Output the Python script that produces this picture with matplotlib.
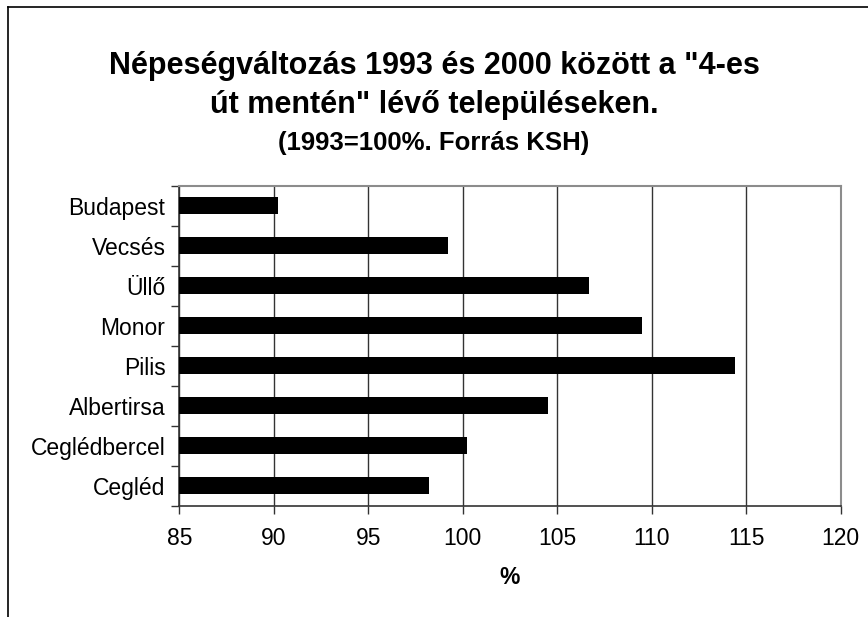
import numpy as np
import matplotlib.pyplot as plt
from matplotlib.lines import Line2D

# Data (1993 = 100%)
towns = ["Budapest", "Vecsés", "Üllő", "Monor", "Pilis", "Albertirsa",
         "Ceglédbercel", "Cegléd"]
values = [90.2, 99.2, 106.7, 109.5, 114.4, 104.5, 100.2, 98.2]
xticks = [85, 90, 95, 100, 105, 110, 115, 120]

plt.rcParams['font.family'] = ['Liberation Sans', 'DejaVu Sans']

W, H = 868, 617
fig = plt.figure(figsize=(W / 100, H / 100), dpi=100)
ax = fig.add_axes([179.3 / W, 1 - 505.7 / H, (840.7 - 179.3) / W, (505.7 - 185.7) / H])

y = np.arange(len(towns))
ax.barh(y, np.array(values) - 85, left=85, height=0.42, color="black", zorder=3)

ax.set_xlim(85, 120)
ax.set_ylim(len(towns) - 0.5, -0.5)
ax.set_xticks(xticks)
ax.set_xticklabels([str(v) for v in xticks], fontsize=16.5)
ax.tick_params(axis="x", direction="out", length=6, width=1, color="#333333", pad=9)

# category labels at centres, tick marks at boundaries
ax.set_yticks(np.arange(len(towns) + 1) - 0.5)
ax.set_yticklabels([])
ax.set_yticks(y, minor=True)
ax.set_yticklabels(towns, minor=True, fontsize=16.5)
ax.tick_params(axis="y", which="major", direction="out", length=6, width=1, color="#333333")
ax.tick_params(axis="y", which="minor", length=0, pad=10)

ax.grid(axis="x", color="#333333", lw=1, zorder=1)
for s in ["left", "bottom"]:
    ax.spines[s].set_color("#333333")
    ax.spines[s].set_linewidth(1.2)
for s in ["top", "right"]:
    ax.spines[s].set_color("#8c8c8c")
    ax.spines[s].set_linewidth(1.5)

ax.set_xlabel("%", fontsize=16.5, fontweight="bold", labelpad=12)

fig.text(0.5, 1 - 66 / H, 'Népeségváltozás 1993 és 2000 között a "4-es',
         ha="center", va="center", fontsize=22, fontweight="bold")
fig.text(0.5, 1 - 105 / H, 'út mentén" lévő településeken.',
         ha="center", va="center", fontsize=22, fontweight="bold")
fig.text(0.5, 1 - 143 / H, '(1993=100%. Forrás KSH)',
         ha="center", va="center", fontsize=18.5, fontweight="bold")

# outer frame (left and top edges visible)
fig.add_artist(Line2D([8 / W, 8 / W], [0, 1 - 7 / H], transform=fig.transFigure,
                      color="black", lw=1.2))
fig.add_artist(Line2D([8 / W, 1], [1 - 7 / H, 1 - 7 / H], transform=fig.transFigure,
                      color="black", lw=1.2))

fig.savefig("out.png", dpi=100)
